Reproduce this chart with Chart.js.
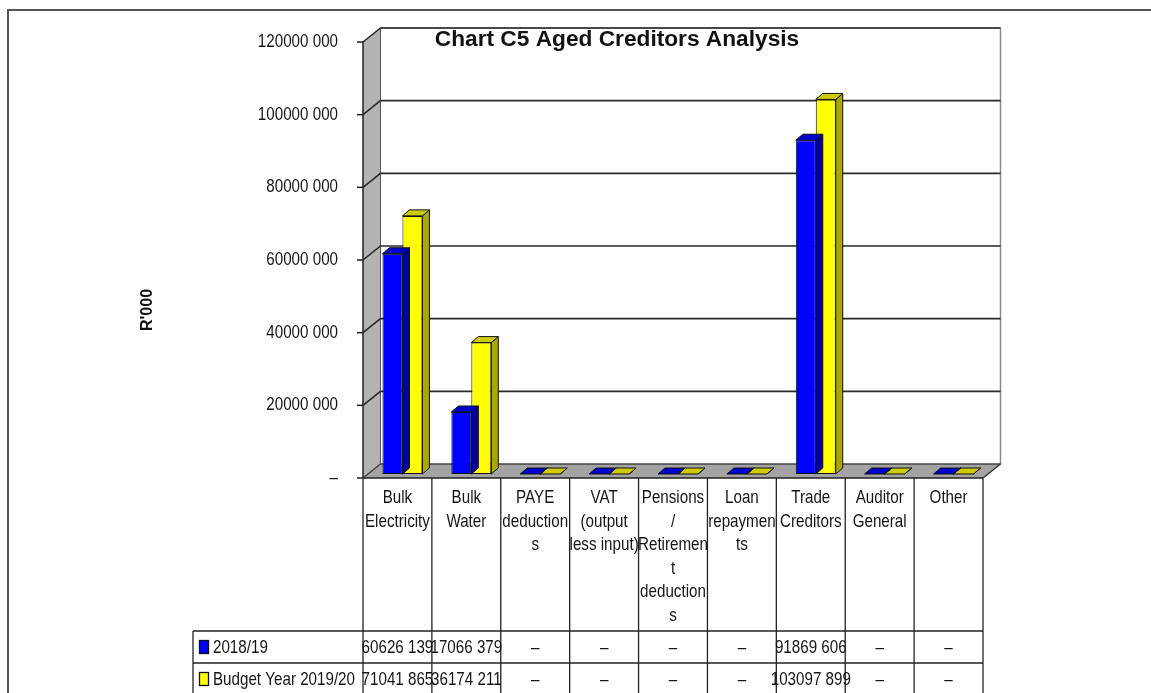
<!DOCTYPE html>
<html>
<head>
<meta charset="utf-8">
<script src="https://cdn.jsdelivr.net/npm/chart.js@4/dist/chart.umd.min.js"></script>
<style>
html, body { margin: 0; padding: 0; background: #fff; }
#wrap { position: relative; width: 1151px; height: 693px; }
</style>
</head>
<body>
<div id="wrap"><canvas id="creditors-chart"></canvas></div>
<script>
const categories = [
    ['Bulk', 'Electricity'],
    ['Bulk', 'Water'],
    ['PAYE', 'deduction', 's'],
    ['VAT', '(output', 'less input)'],
    ['Pensions', '/', 'Retiremen', 't', 'deduction', 's'],
    ['Loan', 'repaymen', 'ts'],
    ['Trade', 'Creditors'],
    ['Auditor', 'General'],
    ['Other'],
];
const seriesNames = ['2018/19', 'Budget Year 2019/20'];
const values2018 = [60626139, 17066379, 0, 0, 0, 0, 91869606, 0, 0];
const valuesBudget = [71041865, 36174211, 0, 0, 0, 0, 103097899, 0, 0];
const yTicks = [0, 20000000, 40000000, 60000000, 80000000, 100000000, 120000000];

const sans = "'Liberation Sans', Arial, sans-serif";
const textColor = '#151515';
const faceColors = ['#0000ff', '#ffff00'];
const sideColors = ['#00009c', '#a8a800'];
const topColors = ['#0000cc', '#cccc00'];

// depth of the walls and of the bars
const wallDx = 17.5;
const wallDy = -14;
const barShiftX = 5;
const barShiftY = -4;
const barDx = 7;
const barDy = -6;

const fmt = (v) => (v === 0 ? '–' : `${Math.floor(v / 1000)} ${String(v % 1000).padStart(3, '0')}`);

const canvas = document.getElementById('creditors-chart');
const ctx2d = canvas.getContext('2d');

// the original uses Arial Narrow, which is not installed: squeeze text horizontally
const baseFillText = ctx2d.fillText;
ctx2d.textScaleX = 0.82;
ctx2d.fillText = function (text, x, y, maxWidth) {
    this.save();
    this.translate(x, y);
    this.scale(this.textScaleX, 1);
    baseFillText.call(this, text, 0, 0, maxWidth);
    this.restore();
};

const poly = (ctx, pts, fill, stroke, lw = 1) => {
    ctx.beginPath();
    ctx.moveTo(pts[0][0], pts[0][1]);
    pts.slice(1).forEach(([px, py]) => ctx.lineTo(px, py));
    ctx.closePath();
    if (fill) {
        ctx.fillStyle = fill;
        ctx.fill();
    }
    if (stroke) {
        ctx.strokeStyle = stroke;
        ctx.lineWidth = lw;
        ctx.stroke();
    }
};

const line = (ctx, x1, y1, x2, y2, color, lw) => {
    ctx.beginPath();
    ctx.moveTo(x1, y1);
    ctx.lineTo(x2, y2);
    ctx.strokeStyle = color;
    ctx.lineWidth = lw;
    ctx.stroke();
};

const excel3d = {
    id: 'excel3d',
    beforeDatasetsDraw(chart) {
        const { ctx, chartArea: a, scales: { y } } = chart;
        ctx.save();
        // side wall and floor
        poly(ctx, [[a.left, a.bottom], [a.left, a.top], [a.left + wallDx, a.top + wallDy], [a.left + wallDx, a.bottom + wallDy]], '#b3b3b3');
        poly(ctx, [[a.left, a.bottom], [a.right, a.bottom], [a.right + wallDx, a.bottom + wallDy], [a.left + wallDx, a.bottom + wallDy]], '#a3a3a3');
        // back wall frame
        line(ctx, a.left + wallDx, a.top + wallDy, a.right + wallDx, a.top + wallDy, '#8a8a8a', 1.5);
        line(ctx, a.right + wallDx, a.top + wallDy, a.right + wallDx, a.bottom + wallDy, '#8a8a8a', 1.5);
        line(ctx, a.left + wallDx, a.top + wallDy, a.left + wallDx, a.bottom + wallDy, '#555', 1);
        // gridlines on both walls
        yTicks.forEach((v) => {
            const py = y.getPixelForValue(v);
            ctx.beginPath();
            ctx.moveTo(a.left, py);
            ctx.lineTo(a.left + wallDx, py + wallDy);
            ctx.lineTo(a.right + wallDx, py + wallDy);
            ctx.strokeStyle = v === 0 ? '#444' : '#2a2a2a';
            ctx.lineWidth = 1.6;
            ctx.stroke();
            line(ctx, a.left - 6, py, a.left, py, '#222', 1.5);
        });
        line(ctx, a.right, a.bottom, a.right + wallDx, a.bottom + wallDy, '#333', 1.5);
        // front axis lines
        line(ctx, a.left, a.top, a.left, a.bottom, '#222', 1.5);
        line(ctx, a.left, a.bottom, a.right, a.bottom, '#222', 1.5);
        ctx.restore();

        ctx.save();
        ctx.translate(barShiftX, barShiftY);
    },
    afterDatasetDraw(chart, args) {
        const { ctx } = chart;
        const i = args.index;
        args.meta.data.forEach((bar) => {
            const { x, y, base, width } = bar.getProps(['x', 'y', 'base', 'width'], true);
            const left = x - width / 2;
            const right = x + width / 2;
            const top = Math.min(y, base);
            poly(ctx, [[right, top], [right + barDx, top + barDy], [right + barDx, base + barDy], [right, base]], sideColors[i], '#111');
            poly(ctx, [[left, top], [right, top], [right + barDx, top + barDy], [left + barDx, top + barDy]], topColors[i], '#111');
        });
    },
    afterDatasetsDraw(chart) {
        chart.ctx.restore();
    },
    afterDraw(chart) {
        const { ctx, chartArea: a, width, height } = chart;
        const colW = (a.right - a.left) / categories.length;
        const tableLeft = 193;
        const rowTops = [631, 663];
        const rowH = 32;
        ctx.save();

        // data table grid
        for (let i = 0; i <= categories.length; i++) {
            const cx = a.left + i * colW;
            line(ctx, cx, a.bottom, cx, height, '#222', 1.3);
        }
        rowTops.forEach((ry) => line(ctx, tableLeft, ry, a.right, ry, '#222', 1.3));
        line(ctx, tableLeft, rowTops[0], tableLeft, height, '#222', 1.3);

        // legend keys and values
        const allValues = [values2018, valuesBudget];
        ctx.font = `18.5px ${sans}`;
        ctx.textBaseline = 'middle';
        allValues.forEach((vals, s) => {
            const cy = rowTops[s] + rowH / 2;
            ctx.fillStyle = faceColors[s];
            ctx.fillRect(199.5, cy - 6.5, 9, 13);
            ctx.strokeStyle = '#111';
            ctx.lineWidth = 1.3;
            ctx.strokeRect(199.5, cy - 6.5, 9, 13);
            ctx.fillStyle = textColor;
            ctx.textAlign = 'left';
            ctx.fillText(seriesNames[s], 213, cy + 1);
            ctx.textAlign = 'center';
            vals.forEach((v, i) => {
                ctx.fillText(fmt(v), a.left + (i + 0.5) * colW, cy + 1);
            });
        });

        // title and axis title use a regular-width face
        ctx.textScaleX = 1;
        ctx.fillStyle = '#111';
        ctx.font = `bold 22.7px ${sans}`;
        ctx.textAlign = 'center';
        ctx.fillText('Chart C5 Aged Creditors Analysis', 617, 40);
        ctx.save();
        ctx.translate(148, 310);
        ctx.rotate(-Math.PI / 2);
        ctx.font = `bold 16px ${sans}`;
        ctx.fillText("R'000", 0, 0);
        ctx.restore();
        ctx.textScaleX = 0.82;

        // outer frame
        ctx.beginPath();
        ctx.moveTo(8, height);
        ctx.lineTo(8, 10);
        ctx.lineTo(width, 10);
        ctx.strokeStyle = '#555';
        ctx.lineWidth = 2;
        ctx.stroke();
        ctx.restore();
    },
};

const barStyle = {
    borderColor: '#111',
    borderWidth: 1,
    borderSkipped: false,
    barPercentage: 1,
    categoryPercentage: 0.58,
    clip: false,
};

new Chart(canvas, {
    type: 'bar',
    data: {
        labels: categories,
        datasets: [
            { label: seriesNames[0], data: values2018, backgroundColor: faceColors[0], ...barStyle },
            { label: seriesNames[1], data: valuesBudget, backgroundColor: faceColors[1], ...barStyle },
        ],
    },
    options: {
        responsive: true,
        maintainAspectRatio: false,
        animation: false,
        layout: { padding: { top: 42, right: 168, bottom: 0, left: 0 } },
        plugins: {
            legend: { display: false },
            tooltip: { enabled: false },
        },
        scales: {
            x: {
                grid: { display: false, drawTicks: false },
                border: { display: false },
                ticks: {
                    autoSkip: false,
                    maxRotation: 0,
                    minRotation: 0,
                    padding: 8,
                    color: textColor,
                    font: { family: sans, size: 18.5, lineHeight: 1.276 },
                },
                afterFit: (scale) => {
                    scale.height = 215;
                },
            },
            y: {
                min: 0,
                max: 120000000,
                grid: { display: false, drawTicks: false },
                border: { display: false },
                afterBuildTicks: (scale) => {
                    scale.ticks = yTicks.map((value) => ({ value }));
                },
                ticks: {
                    padding: 25,
                    color: textColor,
                    font: { family: sans, size: 18.5 },
                    callback: (value) => fmt(value),
                },
                afterFit: (scale) => {
                    scale.width = 363;
                },
            },
        },
    },
    plugins: [excel3d],
});
</script>
</body>
</html>
